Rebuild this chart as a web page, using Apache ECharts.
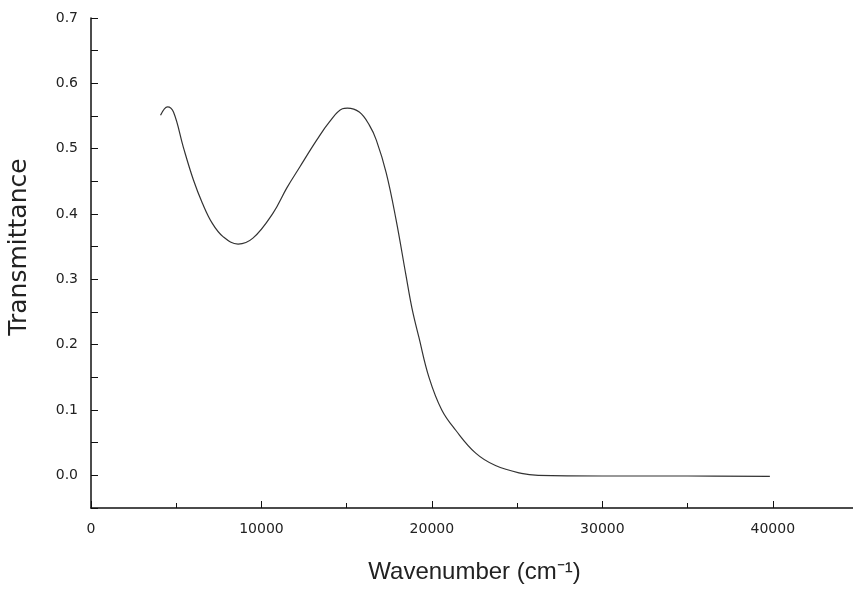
<!DOCTYPE html>
<html>
<head>
<meta charset="utf-8">
<script src="https://cdn.jsdelivr.net/npm/echarts@6/dist/echarts.min.js"></script>
<style>
  html, body { margin: 0; padding: 0; background: #fff; }
  #chart { width: 853px; height: 590px; }
</style>
</head>
<body>
<div id="chart"></div>
<script>
// wavenumber (cm-1)
const wavenumber = [
  4080, 4490, 4840, 5420, 6010, 6530, 7110, 7760, 8630, 9500,
  10670, 11490, 12250, 13240, 13990, 14750, 15040, 15740, 16330, 16740,
  17320, 17900, 18480, 18830, 19240, 19830, 20580, 21400, 22570, 23730,
  25250, 26240, 30000, 35000, 39830
]
const transmittance = [
  0.551, 0.564, 0.556, 0.502, 0.452, 0.417, 0.386, 0.365, 0.354, 0.363,
  0.401, 0.440, 0.472, 0.513, 0.541, 0.561, 0.562, 0.556, 0.536, 0.513,
  0.463, 0.391, 0.306, 0.256, 0.211, 0.150, 0.100, 0.069, 0.034, 0.015,
  0.003, 0.000, -0.001, -0.001, -0.0015
]

const chart = echarts.init(document.getElementById('chart'))

const axisFont = { fontFamily: 'Liberation Sans, Arial, sans-serif', color: '#222' }
const tickFont = { fontFamily: 'DejaVu Sans, sans-serif', color: '#222', fontSize: 14 }

// label only every 0.1, ticks every 0.05
function yLabel(v) {
  const t = v * 10
  if (v < -0.001 || Math.abs(t - Math.round(t)) > 1e-6) return ''
  return Math.abs(v).toFixed(1)
}

chart.setOption({
  animation: false,
  grid: { left: 91, top: 18, right: -5, bottom: 82, outerBoundsMode: 'none' },
  xAxis: {
    type: 'value',
    min: 0,
    max: 45000,
    interval: 10000,
    name: 'Wavenumber (cm\u207B\u00B9)',
    nameLocation: 'middle',
    nameGap: 52,
    nameTextStyle: { ...axisFont, fontSize: 24 },
    axisLine: { onZero: false, lineStyle: { color: '#111', width: 1.5 } },
    axisTick: { inside: true, length: 7, lineStyle: { color: '#111' } },
    minorTick: { show: true, splitNumber: 2, length: 5, lineStyle: { color: '#111' } },
    axisLabel: { ...tickFont, margin: 14, showMaxLabel: false, formatter: (v) => String(v) },
    splitLine: { show: false }
  },
  yAxis: {
    type: 'value',
    min: -0.05,
    max: 0.7,
    interval: 0.05,
    name: 'Transmittance',
    nameLocation: 'middle',
    nameGap: 59,
    nameTextStyle: { fontFamily: 'DejaVu Sans, sans-serif', color: '#222', fontSize: 25, padding: [0, 0, 0, 32] },
    axisLine: { show: true, onZero: false, lineStyle: { color: '#111', width: 1.5 } },
    axisTick: { inside: true, length: 7, lineStyle: { color: '#111' } },
    axisLabel: { ...tickFont, margin: 13, formatter: yLabel },
    splitLine: { show: false }
  },
  series: [
    {
      type: 'line',
      data: wavenumber.map((x, i) => [x, transmittance[i]]),
      smooth: 0.4,
      showSymbol: false,
      lineStyle: { color: '#333', width: 1.2 }
    }
  ]
})
</script>
</body>
</html>
